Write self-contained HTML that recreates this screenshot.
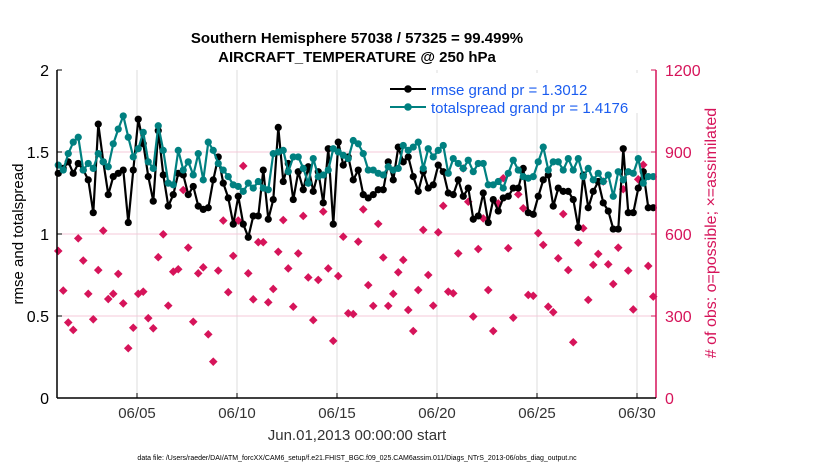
<!DOCTYPE html>
<html><head><meta charset="utf-8"><style>
body{margin:0;background:#fff;font-family:"Liberation Sans",sans-serif;}
svg text{font-family:"Liberation Sans",sans-serif;}
</style></head><body>
<svg id="chart" width="830" height="470">
<text x="357" y="43" text-anchor="middle" font-size="15" font-weight="bold">Southern Hemisphere 57038 / 57325 = 99.499%</text>
<text x="357" y="62" text-anchor="middle" font-size="15" font-weight="bold">AIRCRAFT_TEMPERATURE @ 250 hPa</text>
<g id="grid"></g>
<g id="series"></g>
<g id="axes"></g>
<text transform="translate(23,234) rotate(-90)" text-anchor="middle" font-size="15">rmse and totalspread</text>
<text transform="translate(716,233) rotate(-90)" text-anchor="middle" font-size="16" fill="#d6145a"># of obs: o=possible; ×=assimilated</text>
<text x="357" y="440" text-anchor="middle" font-size="15" fill="#333">Jun.01,2013 00:00:00 start</text>
<text x="357" y="460" text-anchor="middle" font-size="7">data file: /Users/raeder/DAI/ATM_forcXX/CAM6_setup/f.e21.FHIST_BGC.f09_025.CAM6assim.011/Diags_NTrS_2013-06/obs_diag_output.nc</text>
<g>
<rect x="385" y="73" width="270" height="40" fill="#fff"/>
<g>
<line x1="390" y1="89" x2="426" y2="89" stroke="#000" stroke-width="2"/><circle cx="408" cy="89" r="3.8" fill="#000"/>
<text x="431" y="95" font-size="15" fill="#1a5cf0">rmse grand pr = 1.3012</text></g>
<g>
<line x1="390" y1="107" x2="426" y2="107" stroke="#008080" stroke-width="2"/><circle cx="408" cy="107" r="3.8" fill="#008080"/>
<text x="431" y="113" font-size="15" fill="#1a5cf0">totalspread grand pr = 1.4176</text></g>
</g>
</svg>
<script>
const rmse=[1.37,1.40,1.44,1.37,1.43,1.39,1.33,1.13,1.67,1.44,1.24,1.35,1.37,1.39,1.07,1.39,1.70,1.55,1.35,1.20,1.63,1.36,1.17,1.24,1.37,1.36,1.24,1.29,1.17,1.15,1.16,
1.33,1.47,1.31,1.22,1.06,1.23,1.06,0.98,1.11,1.11,1.39,1.09,1.21,1.65,1.32,1.43,1.21,1.38,1.27,1.41,1.26,1.38,1.19,1.52,1.06,1.56,1.42,1.47,1.33,1.39,
1.24,1.22,1.24,1.27,1.27,1.44,1.33,1.53,1.44,1.47,1.35,1.26,1.38,1.28,1.30,1.42,1.38,1.25,1.24,1.33,1.23,1.28,1.09,1.11,1.25,1.07,1.21,1.14,1.22,1.23,
1.28,1.28,1.40,1.13,1.12,1.23,1.33,1.36,1.17,1.28,1.26,1.26,1.21,1.04,1.36,1.16,1.26,1.32,1.19,1.14,1.03,1.03,1.52,1.13,1.13,1.28,1.38,1.16,1.16];
const spread=[1.42,1.39,1.49,1.56,1.59,1.39,1.43,1.40,1.49,1.44,1.41,1.55,1.64,1.72,1.59,1.47,1.52,1.62,1.44,1.40,1.66,1.51,1.31,1.30,1.51,1.39,1.44,1.36,1.49,1.33,1.56,
1.51,1.43,1.39,1.35,1.30,1.29,1.26,1.31,1.28,1.32,1.28,1.27,1.49,1.50,1.51,1.38,1.47,1.47,1.40,1.31,1.46,1.35,1.36,1.39,1.52,1.50,1.48,1.46,1.57,1.55,
1.49,1.39,1.39,1.37,1.36,1.41,1.39,1.40,1.54,1.51,1.53,1.56,1.40,1.52,1.47,1.51,1.54,1.37,1.46,1.43,1.40,1.45,1.38,1.43,1.43,1.30,1.30,1.32,1.28,1.37,
1.45,1.39,1.35,1.34,1.35,1.44,1.53,1.39,1.44,1.44,1.39,1.46,1.39,1.46,1.35,1.40,1.33,1.37,1.32,1.36,1.23,1.38,1.33,1.38,1.37,1.46,1.31,1.35,1.35];
const obsCount=[538,393,276,249,584,503,381,288,468,612,362,381,454,346,182,257,381,389,292,255,515,599,338,462,471,761,550,279,456,478,233,
133,466,649,387,520,649,849,456,361,570,570,350,399,535,651,474,334,529,666,441,285,432,682,474,209,446,590,310,307,572,
690,413,337,637,514,337,381,460,505,322,245,395,615,450,338,606,703,389,383,529,840,718,298,545,657,395,245,712,804,548,
294,745,694,377,374,603,560,334,314,511,673,468,204,568,621,359,487,527,792,489,417,550,764,466,324,800,853,483,371];
const leftTicks=[0,0.5,1,1.5,2];
const rightTicks=[0,300,600,900,1200];
const dayTicks=[5,10,15,20,25,30];
const dayLabels=["06/05","06/10","06/15","06/20","06/25","06/30"];
const NS="http://www.w3.org/2000/svg";
const X0=57,X1=656,Y0=398,Y1=70;
const xDay=d=>X0+(d-1)*20;
const yL=v=>Y0-(v/2)*(Y0-Y1);
const yR=v=>Y0-(v/1200)*(Y0-Y1);
const tOf=i=>1.0625+i*0.25;
function mk(tag,attrs,parent){const e=document.createElementNS(NS,tag);for(const k in attrs)e.setAttribute(k,attrs[k]);parent.appendChild(e);return e;}
const grid=document.getElementById('grid'),ser=document.getElementById('series'),ax=document.getElementById('axes');
dayTicks.forEach((d,i)=>{
 const g=mk('line',{x1:xDay(d),x2:xDay(d),y1:Y1,y2:Y0,stroke:'#dcdcdc','stroke-width':1},grid);
 
 
 const t=mk('line',{x1:xDay(d),x2:xDay(d),y1:Y0,y2:Y0-5,stroke:'#000'},ax);
 
 
 const l=mk('text',{x:xDay(d),y:Y0+20,'text-anchor':'middle','font-size':15,fill:'#333'},ax);l.textContent=dayLabels[i];
 
 
});
leftTicks.forEach(v=>{
 if(v>0&&v<2){const g=mk('line',{x1:X0,x2:X1,y1:yL(v),y2:yL(v),stroke:'#f5c8d8','stroke-width':1},grid);
 
 }
 const t=mk('line',{x1:X0,x2:X0+5,y1:yL(v),y2:yL(v),stroke:'#000'},ax);
 
 
 const l=mk('text',{x:X0-8,y:yL(v)+6,'text-anchor':'end','font-size':16},ax);l.textContent=String(v);
 
 
});
rightTicks.forEach(v=>{
 const t=mk('line',{x1:X1-5,x2:X1,y1:yR(v),y2:yR(v),stroke:'#d6145a'},ax);
 
 
 const l=mk('text',{x:X1+9,y:yR(v)+6,'font-size':16,fill:'#d6145a'},ax);l.textContent=String(v);
 
 
});
const la=mk('line',{x1:X0,x2:X0,y1:Y1,y2:Y0,stroke:'#000','stroke-width':1.5},ax);


const ra=mk('line',{x1:X1,x2:X1,y1:Y1,y2:Y0,stroke:'#d6145a','stroke-width':1.5},ax);


const ba=mk('line',{x1:X0,x2:X1,y1:Y0,y2:Y0,stroke:'#000','stroke-width':1.5},ax);


obsCount.forEach((v,i)=>{
 const x=xDay(tOf(i)),y=yR(v),s=4.3;
 const p=mk('path',{d:`M${x} ${y-s}L${x+s} ${y}L${x} ${y+s}L${x-s} ${y}Z`,fill:'#d6145a'},ser);
 
 
});
function line(arr,color,name){
 const pts=arr.map((v,i)=>xDay(tOf(i)).toFixed(1)+','+yL(v).toFixed(1)).join(' ');
 const pl=mk('polyline',{points:pts,fill:'none',stroke:color,'stroke-width':2.2},ser);
 
 
 arr.forEach((v,i)=>{const c=mk('circle',{cx:xDay(tOf(i)),cy:yL(v),r:3.6,fill:color},ser);
 
 });
}
line(rmse,'#000','rmse');
line(spread,'#008080','totalspread');
</script>
</body></html>
